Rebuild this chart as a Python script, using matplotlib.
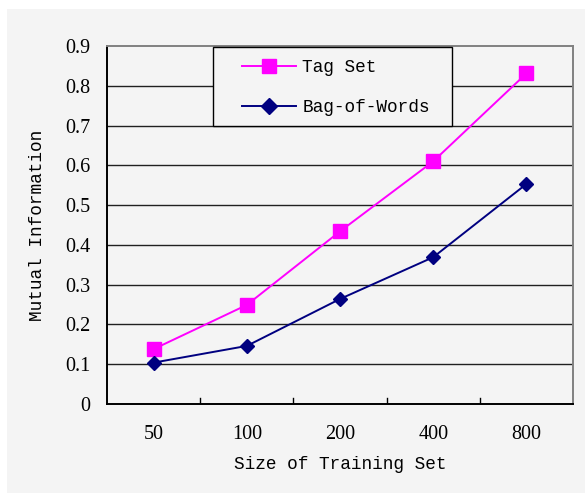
import matplotlib
matplotlib.use("Agg")
import matplotlib.pyplot as plt
from matplotlib.patches import Rectangle

categories = ["50", "100", "200", "400", "800"]
tag_set = [0.138, 0.249, 0.434, 0.610, 0.831]
bag_of_words = [0.104, 0.146, 0.264, 0.369, 0.553]
yticks = [0, 0.1, 0.2, 0.3, 0.4, 0.5, 0.6, 0.7, 0.8, 0.9]
ytick_labels = ["0", "0.1", "0.2", "0.3", "0.4", "0.5", "0.6", "0.7", "0.8", "0.9"]

W, H = 585, 493
fig = plt.figure(figsize=(W/100, H/100), dpi=100)
fig.patch.set_facecolor('white')
bg = '#f4f4f4'
rect = Rectangle((7/W, 0), 1 - 7/W, (H - 9)/H, transform=fig.transFigure,
                 facecolor=bg, edgecolor='none', zorder=-10)
fig.add_artist(rect)

L, T, R, B = 107, 46, 573, 404
ax = fig.add_axes([L/W, 1 - B/H, (R-L)/W, (B-T)/H])
ax.set_zorder(1)
ax.set_facecolor(bg)
x = list(range(len(categories)))
ax.plot(x, tag_set, color='#ff00ff', lw=1.4, marker='s', ms=9.5, mfc='#ff00ff', mec='#ff00ff',
        label='Tag Set', zorder=3, clip_on=False)
ax.plot(x, bag_of_words, color='#000080', lw=1.4, marker='D', ms=7.2, mfc='#000080', mec='#000080',
        label='Bag-of-Words', zorder=3, clip_on=False)

ax.set_xlim(-0.5, len(categories) - 0.5)
ax.set_ylim(0, 0.9)
serif = ['Liberation Serif', 'DejaVu Serif']
mono = ['Liberation Mono', 'DejaVu Sans Mono']
ax.set_yticks(yticks)
ax.set_yticklabels(ytick_labels, fontsize=14.5, family=serif)
ax.set_xticks(x)
ax.set_xticklabels(categories, fontsize=14.5, family=serif)
ax.tick_params(axis='x', length=0, pad=15)
ax.tick_params(axis='y', length=0, pad=12)
for b in [0.5, 1.5, 2.5, 3.5]:
    ax.plot([b, b], [0, 0.015], color='black', lw=1, zorder=2)
for yv in yticks[1:-1]:
    ax.axhline(yv, color='#202020', lw=1, zorder=1)

for s in ['left', 'bottom']:
    ax.spines[s].set_color('black')
    ax.spines[s].set_linewidth(1.4)
for s in ['top', 'right']:
    ax.spines[s].set_color('#808080')
    ax.spines[s].set_linewidth(1.4)

ax.set_xlabel('Size of Training Set', fontsize=12.8, family=mono, labelpad=9)
ax.set_ylabel('Mutual Information', fontsize=12.8, family=mono, labelpad=14)

# legend box
box = Rectangle(((213-L)/(R-L), (B-126)/(B-T)), (452-213)/(R-L), (126-47)/(B-T),
                transform=ax.transAxes, facecolor=bg, edgecolor='black', lw=1.0, zorder=4)
ax.add_patch(box)
leg = ax.legend(loc='center left', bbox_to_anchor=((242-L)/(R-L), (B-87.5)/(B-T)),
                prop={'family': mono, 'size': 12.8},
                frameon=False, borderpad=0, labelspacing=1.3, handlelength=3.05,
                borderaxespad=0, handletextpad=0.35, markerscale=1.1)
leg.set_zorder(5)

fig.savefig('out.png', dpi=100, facecolor='white')
